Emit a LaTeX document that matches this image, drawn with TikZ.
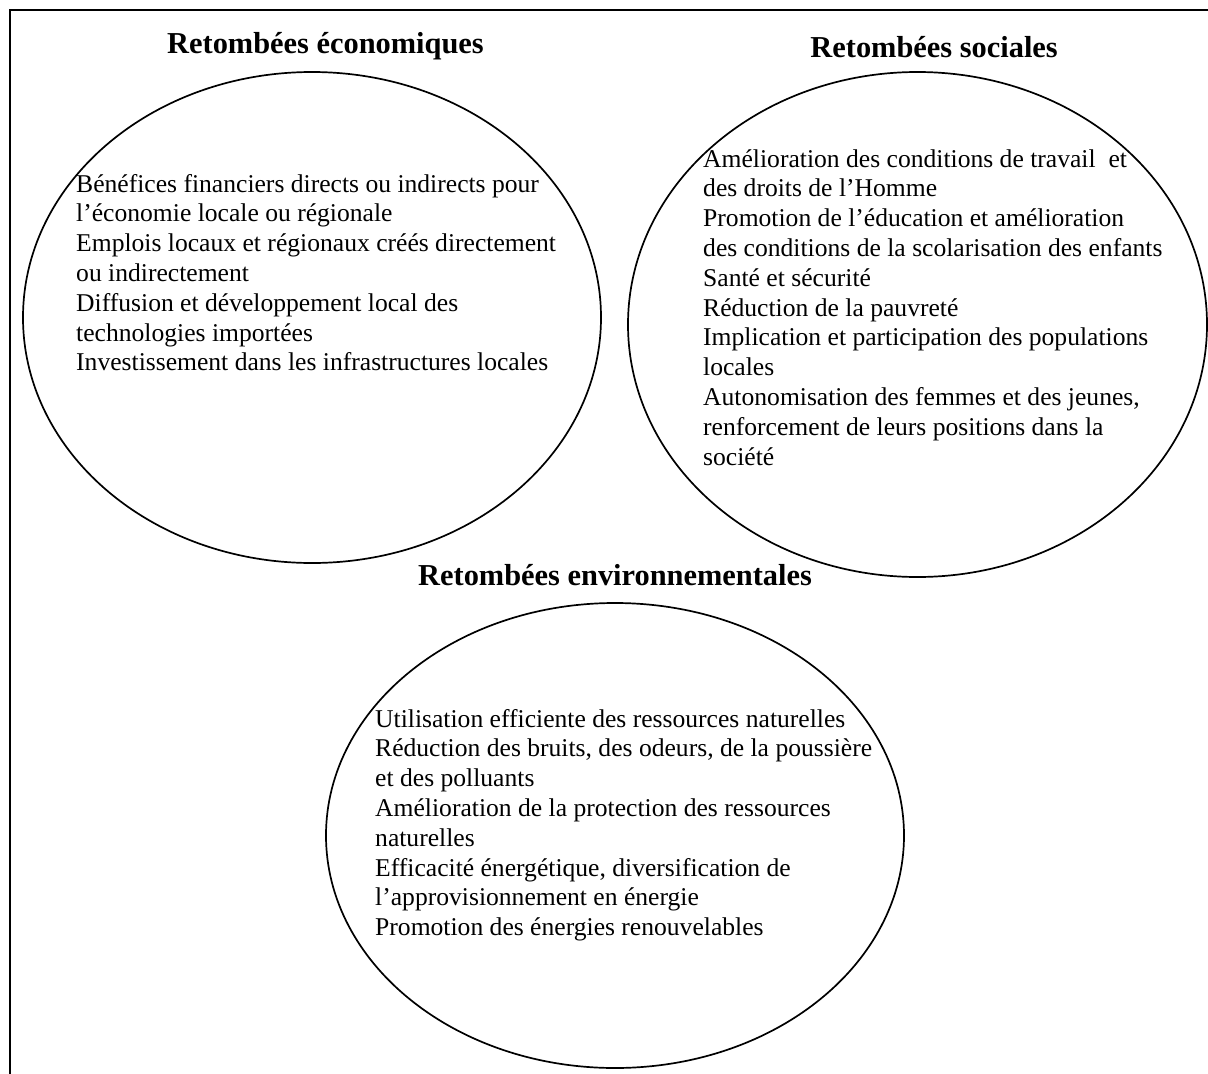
\documentclass[tikz,border=0pt]{standalone}
\usepackage{fontspec}
\setmainfont{Liberation Serif}
\usetikzlibrary{shapes.geometric}
\tikzset{
  bubble/.style={ellipse, draw, line width=1.7pt, inner sep=0pt},
  ttl/.style={font=\fontsize{30.4}{34}\selectfont\bfseries, inner sep=0pt},
  body/.style={font=\fontsize{25.6}{29.8}\selectfont, align=left, inner sep=0pt, anchor=base west},
}
\begin{document}
\begin{tikzpicture}[x=1pt,y=-1pt]
\useasboundingbox (0,0) rectangle (1208,1074);
\coordinate (fb) at (10,1074);
\coordinate (fc) at (10,10);
\coordinate (fr) at (1208,10);
\draw[line width=1.9pt] (fb) -- (fc) -- (fr);

\node[bubble, minimum width=578pt, minimum height=491pt] (eco) at (312,317.5) {};
\node[bubble, minimum width=579pt, minimum height=505pt] (soc) at (917.5,324.5) {};
\node[bubble, minimum width=578pt, minimum height=465pt] (env) at (615,835.5) {};

\node[ttl, anchor=base west] (teco) at (167,53) {Retombées économiques};
\node[ttl, anchor=base east] (tsoc) at (1058,57) {Retombées sociales};
\node[ttl, anchor=base west] (tenv) at (418,585) {Retombées environnementales};

\node[body] (beco) at (76,370.8) {Bénéfices financiers directs ou indirects pour\\
l’économie locale ou régionale\\
Emplois locaux et régionaux créés directement\\
ou indirectement\\
Diffusion et développement local des\\
technologies importées\\
Investissement dans les infrastructures locales};

\node[body] (bsoc) at (703,465) {Amélioration des conditions de travail\ \ et\\
des droits de l’Homme\\
Promotion de l’éducation et amélioration\\
des conditions de la scolarisation des enfants\\
Santé et sécurité\\
Réduction de la pauvreté\\
Implication et participation des populations\\
locales\\
Autonomisation des femmes et des jeunes,\\
renforcement de leurs positions dans la\\
société};

\node[body] (benv) at (375,935.6) {Utilisation efficiente des ressources naturelles\\
Réduction des bruits, des odeurs, de la poussière\\
et des polluants\\
Amélioration de la protection des ressources\\
naturelles\\
Efficacité énergétique, diversification de\\
l’approvisionnement en énergie\\
Promotion des énergies renouvelables};
\end{tikzpicture}
\end{document}
